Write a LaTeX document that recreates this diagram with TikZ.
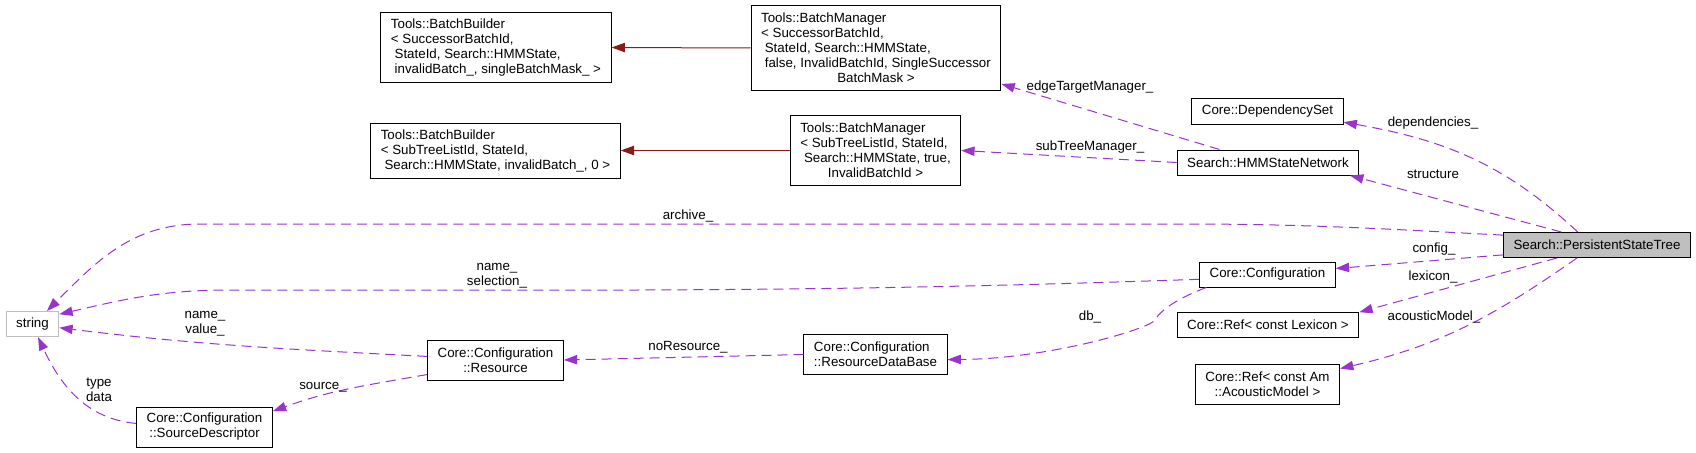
\documentclass[tikz,border=0pt]{standalone}
\usepackage{fontspec}
\setmainfont{Liberation Sans}
\usetikzlibrary{arrows.meta}

\definecolor{usepurple}{HTML}{9A32CD}
\definecolor{inhred}{HTML}{8B1A1A}
\definecolor{boxgray}{HTML}{BFBFBF}
\newcommand{\dfont}{\fontsize{10}{11.25}\selectfont}
\newcommand{\indsp}{\mbox{}\ }

\tikzset{
  cls/.style={draw=black, fill=white, font=\dfont, line width=0.75pt,
    inner xsep=7.5pt, inner ysep=1pt, minimum height=18.75pt},
  nrows/.style={minimum height={0.75pt*(10+15*#1)}},
  inh/.style={draw=inhred, line width=0.75pt, -{Triangle[length=10pt,width=7pt]}},
  uses/.style={draw=usepurple, line width=0.75pt, dash pattern=on 7.5pt off 4.5pt,
    -{Triangle[length=10pt,width=7pt]}},
  elabel/.style={font=\dfont, align=center, inner sep=0pt},
}

\begin{document}
\begin{tikzpicture}[x=0.75pt,y=-0.75pt]
  \useasboundingbox (0,0) rectangle (1696,453);

  % classes
  \node[cls,nrows=4,align=left] (bb1) at (496,47.5) {Tools::BatchBuilder\\< SuccessorBatchId,\\\indsp StateId, Search::HMMState,\\\indsp invalidBatch\_, singleBatchMask\_ >};
  \node[cls,nrows=3,align=left] (bb2) at (495.5,150.5) {Tools::BatchBuilder\\< SubTreeListId, StateId,\\\indsp Search::HMMState, invalidBatch\_, 0 >};
  \node[cls,nrows=5,align=left] (bm1) at (876,48) {Tools::BatchManager\\< SuccessorBatchId,\\\indsp StateId, Search::HMMState,\\\indsp false, InvalidBatchId, SingleSuccessor\\\hfil BatchMask >};
  \node[cls,nrows=4,align=left] (bm2) at (875.5,150.5) {Tools::BatchManager\\< SubTreeListId, StateId,\\\indsp Search::HMMState, true,\\\hfil InvalidBatchId >};
  \node[cls] (dep) at (1267.5,111.5) {Core::DependencySet};
  \node[cls] (hsn) at (1268,162.5) {Search::HMMStateNetwork};
  \node[cls,fill=boxgray] (pst) at (1597,245) {Search::PersistentStateTree};
  \node[cls] (conf) at (1267.5,274.5) {Core::Configuration};
  \node[cls] (reflex) at (1268,325) {Core::Ref< const Lexicon >};
  \node[cls,nrows=2,align=center] (refam) at (1267.5,384) {Core::Ref< const Am\\::AcousticModel >};
  \node[cls,draw=boxgray] (str) at (32.5,324) {string};
  \node[cls,nrows=2,align=center] (res) at (495.5,360) {Core::Configuration\\::Resource};
  \node[cls,nrows=2,align=center] (srcd) at (204.5,427) {Core::Configuration\\::SourceDescriptor};
  \node[cls,nrows=2,align=left] (rdb) at (875.5,354.5) {Core::Configuration\\::ResourceDataBase};

  % inheritance
  \draw[inh] (bm1.west) -- (bb1.east);
  \draw[inh] (bm2.west) -- (bb2.east);

  % usage
  \draw[uses] (hsn.165) -- (bm1.-16);
  \draw[uses] (hsn.west) -- (bm2.east);
  \draw[uses] (pst.146) to[out=137,in=-10] (dep.-8);
  \draw[uses] (pst.160) -- (hsn.-9);
  \draw[uses] (pst.174) to[out=177,in=0] (1180,224) -- (200,224) to[out=180,in=45] (str.42);
  \draw[uses] (pst.186) -- (conf.5);
  \draw[uses] (conf.184) to[out=182,in=0] (230,290) to[out=180,in=13] (str.20);
  \draw[uses] (res.177) to[out=177,in=-7] (str.-8);
  \draw[uses] (res.192) to[out=190,in=20] (srcd.13);
  \draw[uses] (srcd.177) to[out=175,in=-65] (str.-67);
  \draw[uses] (rdb.west) -- (res.east);
  \draw[uses] (conf.192) .. controls (1185,295.5) and (1162.5,307) .. (1155,320)
    .. controls (1150,328.7) and (1048,359) .. (rdb.-4);
  \draw[uses] (pst.198) -- (reflex.8);
  \draw[uses] (pst.213) to[out=215,in=13] (refam.12);

  % labels
  \node[elabel] (l-etm) at (1090,87) {edgeTargetManager\_};
  \node[elabel] (l-stm) at (1090,147) {subTreeManager\_};
  \node[elabel] (l-dep) at (1433,123) {dependencies\_};
  \node[elabel] (l-struct) at (1433,174) {structure};
  \node[elabel] (l-arch) at (688,216) {archive\_};
  \node[elabel] (l-namesel) at (497,275.5) {name\_\\selection\_};
  \node[elabel] (l-nameval) at (205,323.5) {name\_\\value\_};
  \node[elabel] (l-src) at (323,387) {source\_};
  \node[elabel] (l-typedata) at (99,390) {type\\data};
  \node[elabel] (l-nores) at (688,347) {noResource\_};
  \node[elabel] (l-db) at (1090,317) {db\_};
  \node[elabel] (l-conf) at (1434,249) {config\_};
  \node[elabel] (l-lex) at (1433,277) {lexicon\_};
  \node[elabel] (l-am) at (1434,317) {acousticModel\_};
\end{tikzpicture}
\end{document}
